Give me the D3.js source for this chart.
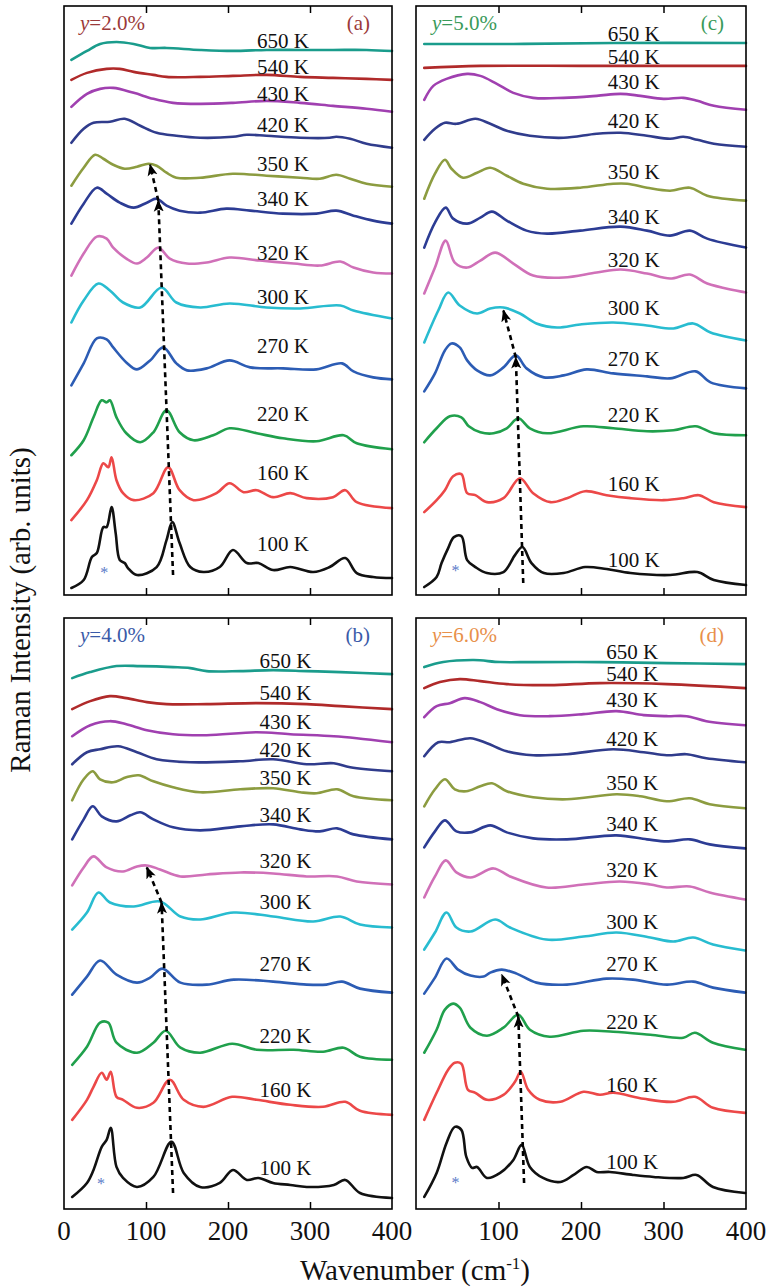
<!DOCTYPE html>
<html>
<head>
<meta charset="utf-8">
<script src="https://cdn.jsdelivr.net/npm/d3@7"></script>
<style>
  html, body { margin: 0; padding: 0; background: #fff; }
  svg { display: block; }
</style>
</head>
<body>
<svg id="chart" width="770" height="1287" font-family="'Liberation Serif', 'Times New Roman', Times, serif"></svg>
<script>
// ---- data: Raman spectra, stacked, wavenumber (cm^-1) vs intensity (arb. units) ----
const temperatures = ["650 K", "540 K", "430 K", "420 K", "350 K", "340 K", "320 K", "300 K", "270 K", "220 K", "160 K", "100 K"];
const lineColors = ["#1a9c8c", "#b02a2a", "#a040b0", "#303c8c", "#8c9c40", "#2c3c94", "#d070b8", "#28bcd0", "#2c5cb4", "#20a04c", "#ec4848", "#111111"];
const xTicks = [0, 100, 200, 300, 400];
const compositions = ["y=2.0%", "y=5.0%", "y=4.0%", "y=6.0%"];
const panelTags = ["(a)", "(c)", "(b)", "(d)"];

// panel (a), y = 2.0 %
const spectraA = [
  [[9,536],[28,545],[44,552],[64,554],[85,552],[105,548],[125,548],[166,546],[206,545],[247,546],[288,546],[328,546],[369,546],[400,545]],
  [[9,516],[28,523],[52,527],[68,527],[85,524],[109,521],[125,519],[166,519],[206,520],[247,521],[288,519],[328,518],[369,517],[400,516]],
  [[9,489],[28,502],[44,507],[60,508],[85,503],[109,497],[133,493],[166,492],[206,493],[247,495],[288,493],[328,490],[369,487],[400,484]],
  [[9,453],[24,467],[36,473],[56,474],[74,477],[93,470],[113,463],[137,460],[166,458],[206,459],[223,461],[247,460],[288,458],[324,458],[332,459],[349,457],[369,452],[400,448]],
  [[9,410],[24,428],[38,441],[48,437],[60,431],[74,427],[89,429],[103,432],[113,430],[125,423],[137,418],[166,418],[206,422],[247,420],[288,418],[312,417],[332,421],[349,417],[369,412],[400,409]],
  [[9,372],[24,392],[40,408],[52,402],[68,393],[85,388],[101,393],[113,397],[125,390],[141,385],[166,383],[198,387],[227,385],[267,382],[308,382],[332,385],[353,380],[377,375],[400,372]],
  [[9,320],[24,342],[40,359],[52,357],[60,348],[76,337],[89,332],[101,338],[115,348],[129,337],[150,332],[174,333],[202,338],[239,335],[280,332],[312,330],[337,334],[353,328],[377,323],[400,322]],
  [[9,273],[24,295],[42,312],[56,305],[72,293],[93,288],[119,308],[137,293],[166,288],[202,292],[247,288],[288,287],[337,290],[353,285],[400,277]],
  [[9,210],[24,232],[40,257],[52,256],[60,248],[76,233],[89,226],[105,235],[121,248],[137,232],[150,225],[174,227],[202,235],[227,228],[267,227],[308,226],[339,232],[353,224],[377,218],[400,216]],
  [[9,140],[24,155],[36,178],[46,195],[52,193],[56,195],[64,178],[76,162],[93,153],[109,163],[125,185],[141,163],[158,155],[182,160],[202,167],[235,162],[267,157],[308,154],[341,160],[357,152],[400,146]],
  [[9,75],[28,95],[40,115],[48,132],[54,128],[58,138],[64,115],[72,102],[85,95],[109,102],[127,128],[141,105],[158,95],[186,102],[202,112],[219,103],[235,105],[255,98],[276,102],[296,97],[328,98],[343,105],[357,93],[400,87]],
  [[9,7],[24,15],[34,38],[40,42],[48,68],[52,68],[58,88],[63,62],[68,35],[74,32],[78,27],[89,20],[113,28],[125,55],[132,73],[141,52],[154,28],[170,23],[190,28],[206,45],[223,32],[237,32],[255,25],[276,28],[304,23],[324,28],[343,37],[357,22],[377,18],[400,17]]
];

// panel (c), y = 5.0 %
const spectraC = [
  [[10,552],[118,552],[239,553],[400,553]],
  [[10,528],[78,530],[199,530],[320,530],[400,530]],
  [[10,496],[21,510],[37,517],[62,522],[78,520],[98,512],[118,503],[142,498],[179,498],[219,500],[248,502],[272,500],[300,497],[324,498],[341,495],[361,490],[400,486]],
  [[10,456],[23,467],[35,473],[49,472],[72,477],[90,472],[110,465],[138,460],[179,458],[219,462],[248,463],[280,460],[308,457],[324,459],[341,456],[361,452],[400,449]],
  [[10,397],[23,422],[35,436],[43,427],[57,418],[74,423],[90,428],[110,420],[130,412],[159,407],[199,408],[239,412],[256,412],[280,408],[308,405],[332,408],[353,400],[400,395]],
  [[10,348],[23,373],[36,388],[45,377],[62,372],[78,378],[92,384],[110,375],[134,365],[159,362],[199,365],[248,369],[280,365],[308,360],[332,365],[353,357],[400,348]],
  [[10,302],[23,328],[36,355],[47,333],[62,328],[78,335],[96,343],[118,332],[142,320],[179,318],[219,323],[248,326],[280,322],[308,317],[332,321],[353,312],[400,303]],
  [[10,253],[27,285],[39,303],[53,290],[74,282],[90,287],[106,288],[126,282],[146,272],[171,268],[199,271],[239,273],[280,270],[312,267],[336,272],[357,263],[400,255]],
  [[10,204],[23,222],[35,245],[43,252],[53,248],[62,235],[74,225],[90,220],[106,228],[121,240],[134,227],[155,218],[179,220],[207,226],[239,222],[280,219],[308,217],[339,224],[357,213],[400,207]],
  [[10,153],[25,167],[41,179],[55,178],[64,169],[78,163],[94,162],[110,167],[124,177],[138,167],[159,162],[203,169],[239,167],[280,164],[312,165],[339,169],[361,162],[400,160]],
  [[10,83],[25,95],[35,105],[45,119],[55,121],[62,102],[72,100],[86,93],[106,97],[126,117],[142,102],[163,93],[183,97],[205,104],[231,100],[260,97],[300,95],[324,97],[343,100],[361,93],[400,88]],
  [[10,8],[25,18],[31,32],[39,47],[46,58],[55,59],[62,35],[72,28],[86,22],[106,23],[120,40],[129,48],[140,32],[155,22],[179,22],[205,28],[231,26],[260,22],[308,20],[341,23],[361,15],[400,10]]
];

// panel (b), y = 4.0 %
const spectraB = [
  [[10,530],[32,536],[64,542],[93,542],[133,541],[154,540],[174,537],[215,537],[255,538],[296,537],[337,536],[400,534]],
  [[10,499],[32,507],[56,512],[76,510],[101,506],[125,504],[174,504],[235,505],[296,504],[337,502],[400,499]],
  [[10,472],[32,483],[56,487],[76,484],[101,478],[133,474],[174,473],[235,476],[276,474],[329,472],[357,470],[400,466]],
  [[10,444],[28,456],[44,459],[66,462],[89,456],[113,449],[154,446],[215,447],[255,449],[296,444],[329,445],[349,441],[400,437]],
  [[10,408],[24,429],[35,437],[44,429],[60,426],[76,431],[91,433],[109,427],[133,421],[166,416],[215,419],[255,420],[288,416],[308,415],[333,419],[353,412],[400,408]],
  [[10,369],[24,389],[35,402],[46,392],[64,387],[81,393],[93,396],[109,389],[133,381],[166,378],[215,382],[255,384],[288,379],[312,377],[333,380],[353,374],[400,369]],
  [[10,323],[24,341],[36,352],[52,341],[72,337],[89,342],[101,343],[117,339],[142,332],[174,334],[215,336],[255,335],[296,332],[333,332],[357,327],[400,324]],
  [[10,279],[28,296],[42,316],[56,306],[85,302],[117,307],[142,292],[166,289],[207,296],[255,292],[304,287],[337,292],[361,284],[400,281]],
  [[10,214],[28,232],[44,248],[64,234],[89,226],[105,231],[120,240],[142,226],[174,224],[207,229],[255,227],[296,224],[320,224],[339,227],[361,220],[400,216]],
  [[10,144],[28,162],[44,186],[54,186],[64,166],[89,156],[109,166],[124,178],[142,161],[166,156],[205,165],[235,159],[280,159],[316,157],[341,161],[361,152],[400,149]],
  [[10,89],[28,109],[36,122],[46,136],[52,129],[57,137],[64,112],[72,109],[89,101],[109,106],[129,129],[146,109],[170,102],[205,112],[235,109],[276,104],[316,102],[343,107],[361,98],[400,94]],
  [[10,12],[28,26],[36,39],[46,62],[52,69],[57,81],[64,42],[72,31],[89,22],[109,32],[131,67],[146,36],[166,22],[190,26],[206,39],[223,29],[237,31],[255,26],[276,24],[296,22],[329,24],[343,29],[361,16],[400,11]]
];

// panel (d), y = 6.0 %
const spectraD = [
  [[10,541],[33,546],[70,548],[102,546],[142,546],[223,546],[304,545],[399,544]],
  [[10,520],[29,526],[53,529],[78,527],[110,524],[162,523],[223,525],[304,524],[399,520]],
  [[10,491],[25,502],[41,505],[59,510],[78,506],[98,499],[126,493],[162,492],[203,494],[243,497],[276,493],[304,492],[328,492],[352,487],[399,483]],
  [[10,452],[27,466],[41,466],[66,470],[86,465],[110,457],[142,453],[183,454],[239,459],[276,456],[304,453],[328,454],[352,450],[399,446]],
  [[10,402],[23,419],[35,429],[47,419],[61,417],[78,422],[92,425],[110,417],[142,411],[183,409],[243,414],[272,412],[304,407],[332,410],[356,404],[399,400]],
  [[10,361],[23,377],[35,388],[49,377],[66,376],[90,383],[110,376],[142,370],[183,369],[243,373],[280,369],[304,367],[332,369],[356,364],[399,360]],
  [[10,311],[23,332],[36,348],[49,336],[66,331],[94,340],[114,332],[158,321],[203,324],[247,327],[284,324],[304,321],[332,322],[356,316],[399,309]],
  [[10,259],[23,276],[37,296],[49,281],[66,277],[96,289],[114,281],[158,269],[203,272],[243,276],[284,271],[312,267],[336,271],[360,264],[399,258]],
  [[10,215],[23,231],[37,250],[51,239],[66,233],[82,232],[90,236],[104,239],[122,235],[146,226],[183,224],[231,230],[263,229],[304,224],[336,227],[360,221],[399,216]],
  [[10,156],[25,179],[35,199],[45,205],[53,201],[66,181],[86,173],[106,181],[124,194],[138,179],[162,172],[203,178],[239,177],[284,174],[324,171],[338,176],[360,166],[399,159]],
  [[10,89],[25,116],[39,139],[47,146],[55,145],[63,119],[72,116],[86,109],[106,114],[120,127],[127,137],[136,119],[150,109],[175,107],[203,117],[223,114],[239,116],[276,110],[312,107],[338,112],[360,101],[399,96]],
  [[10,12],[25,36],[37,66],[47,82],[55,79],[61,52],[68,41],[74,42],[86,31],[102,36],[118,49],[128,64],[138,42],[154,31],[175,27],[191,34],[207,42],[219,37],[235,37],[263,34],[288,32],[324,31],[340,34],[360,22],[399,16]]
];

// where each temperature label sits (wavenumber, intensity at baseline)
const labelWavenumbers = [267, 264, 270, 262];
const labelLevelsA = [548, 522, 495, 464, 425, 390, 336, 291, 242, 174, 115, 44];
const labelLevelsC = [555, 532, 507, 468, 417, 372, 329, 280, 229, 173, 104, 28];
const labelLevelsB = [540, 508, 479, 451, 423, 386, 340, 299, 238, 166, 112, 34];
const labelLevelsD = [549, 527, 501, 462, 418, 377, 331, 280, 238, 180, 117, 40];

// dashed arrows following the soft-mode peak: start, first tip, second tip
const peakTrackA = [[133, 20], [115, 395], [105, 431]];
const peakTrackC = [[130, 12], [121, 238], [106, 285]];
const peakTrackB = [[133, 16], [119, 306], [101, 341]];
const peakTrackD = [[131, 26], [124, 192], [104, 234]];

// instrument artefact marker (*)
const starPoints = [[49, 23], [48, 25], [45, 26], [48, 27]];

const compositionColors = ["#9b3a3a", "#3a9a5a", "#3a5aa8", "#e8904a"];

// ---- layout ----
const panels = [
  { spectra: spectraA, levels: labelLevelsA, track: peakTrackA, left: 64, right: 392, top: 6, bottom: 595, xLabels: false },
  { spectra: spectraC, levels: labelLevelsC, track: peakTrackC, left: 416, right: 746, top: 6, bottom: 595, xLabels: false },
  { spectra: spectraB, levels: labelLevelsB, track: peakTrackB, left: 64, right: 392, top: 618, bottom: 1209, xLabels: true },
  { spectra: spectraD, levels: labelLevelsD, track: peakTrackD, left: 416, right: 746, top: 618, bottom: 1209, xLabels: true, skipZero: true }
];

const svg = d3.select("#chart");

svg.append("defs").append("marker")
  .attr("id", "head")
  .attr("viewBox", "0 -5 12 10")
  .attr("refX", 11)
  .attr("refY", 0)
  .attr("markerUnits", "userSpaceOnUse")
  .attr("markerWidth", 12)
  .attr("markerHeight", 11)
  .attr("orient", "auto")
  .append("path")
  .attr("d", "M0,-5L12,0L0,5L3,0Z")
  .attr("fill", "#000");

panels.forEach((p, i) => {
  const x = d3.scaleLinear().domain([0, 400]).range([p.left, p.right]);
  const y = d3.scaleLinear().domain([0, 590]).range([p.bottom, p.top]);
  const g = svg.append("g");

  const line = d3.line()
    .x(d => x(d[0]))
    .y(d => y(d[1]))
    .curve(d3.curveCatmullRom.alpha(0.5));

  // spectra
  g.selectAll("path.spec")
    .data(p.spectra)
    .join("path")
    .attr("class", "spec")
    .attr("d", line)
    .attr("fill", "none")
    .attr("stroke", (d, k) => lineColors[k])
    .attr("stroke-width", 2.6)
    .attr("stroke-linejoin", "round")
    .attr("stroke-linecap", "round");

  // temperature labels
  g.selectAll("text.temp")
    .data(temperatures)
    .join("text")
    .attr("class", "temp")
    .attr("x", x(labelWavenumbers[i]))
    .attr("y", (d, k) => y(p.levels[k]))
    .attr("text-anchor", "middle")
    .attr("font-size", 21)
    .attr("fill", "#111")
    .text(d => d);

  // dashed peak-tracking arrows
  const straight = d3.line().x(d => x(d[0])).y(d => y(d[1]));
  [[p.track[0], p.track[1]], [p.track[1], p.track[2]]].forEach(seg => {
    g.append("path")
      .attr("d", straight(seg))
      .attr("fill", "none")
      .attr("stroke", "#000")
      .attr("stroke-width", 2.6)
      .attr("stroke-dasharray", "5,4")
      .attr("marker-end", "url(#head)");
  });

  // artefact star
  g.append("text")
    .attr("x", x(starPoints[i][0]))
    .attr("y", y(starPoints[i][1]) + 6)
    .attr("text-anchor", "middle")
    .attr("font-size", 16)
    .attr("fill", "#5a7ac8")
    .text("*");

  // composition and panel tag
  g.append("text")
    .attr("x", p.left + 16)
    .attr("y", p.top + 24)
    .attr("font-size", 21)
    .attr("fill", compositionColors[i])
    .call(t => {
      t.append("tspan").attr("font-style", "italic").text(compositions[i].slice(0, 1));
      t.append("tspan").text(compositions[i].slice(1));
    });
  g.append("text")
    .attr("x", p.right - 22)
    .attr("y", p.top + 24)
    .attr("text-anchor", "end")
    .attr("font-size", 21)
    .attr("fill", compositionColors[i])
    .text(panelTags[i]);

  // inward ticks on top and bottom
  const inner = xTicks.filter(v => v > 0 && v < 400);
  g.append("g")
    .attr("transform", `translate(0,${p.bottom})`)
    .call(d3.axisBottom(x).tickValues(inner).tickSize(-7).tickFormat(""))
    .call(a => a.select(".domain").remove())
    .selectAll("line").attr("stroke", "#000").attr("stroke-width", 1.5);
  g.append("g")
    .attr("transform", `translate(0,${p.top})`)
    .call(d3.axisTop(x).tickValues(inner).tickSize(-7).tickFormat(""))
    .call(a => a.select(".domain").remove())
    .selectAll("line").attr("stroke", "#000").attr("stroke-width", 1.5);

  // frame
  g.append("rect")
    .attr("x", p.left).attr("y", p.top)
    .attr("width", p.right - p.left).attr("height", p.bottom - p.top)
    .attr("fill", "none").attr("stroke", "#000").attr("stroke-width", 1.6);

  // tick labels below the lower panels
  if (p.xLabels) {
    const vals = p.skipZero ? xTicks.filter(v => v > 0) : xTicks;
    g.selectAll("text.tick")
      .data(vals)
      .join("text")
      .attr("class", "tick")
      .attr("x", d => x(d))
      .attr("y", p.bottom + 31)
      .attr("text-anchor", "middle")
      .attr("font-size", 27)
      .attr("fill", "#111")
      .text(d => d);
  }
});

// axis titles
svg.append("text")
  .attr("x", 415)
  .attr("y", 1280)
  .attr("text-anchor", "middle")
  .attr("font-size", 29)
  .attr("fill", "#111")
  .call(t => {
    t.append("tspan").text("Wavenumber (cm");
    t.append("tspan").attr("font-size", 17).attr("dy", -11).text("-1");
    t.append("tspan").attr("dy", 11).text(")");
  });

svg.append("text")
  .attr("transform", "translate(30,610) rotate(-90)")
  .attr("text-anchor", "middle")
  .attr("font-size", 29)
  .attr("fill", "#111")
  .text("Raman Intensity (arb. units)");
</script>
</body>
</html>
